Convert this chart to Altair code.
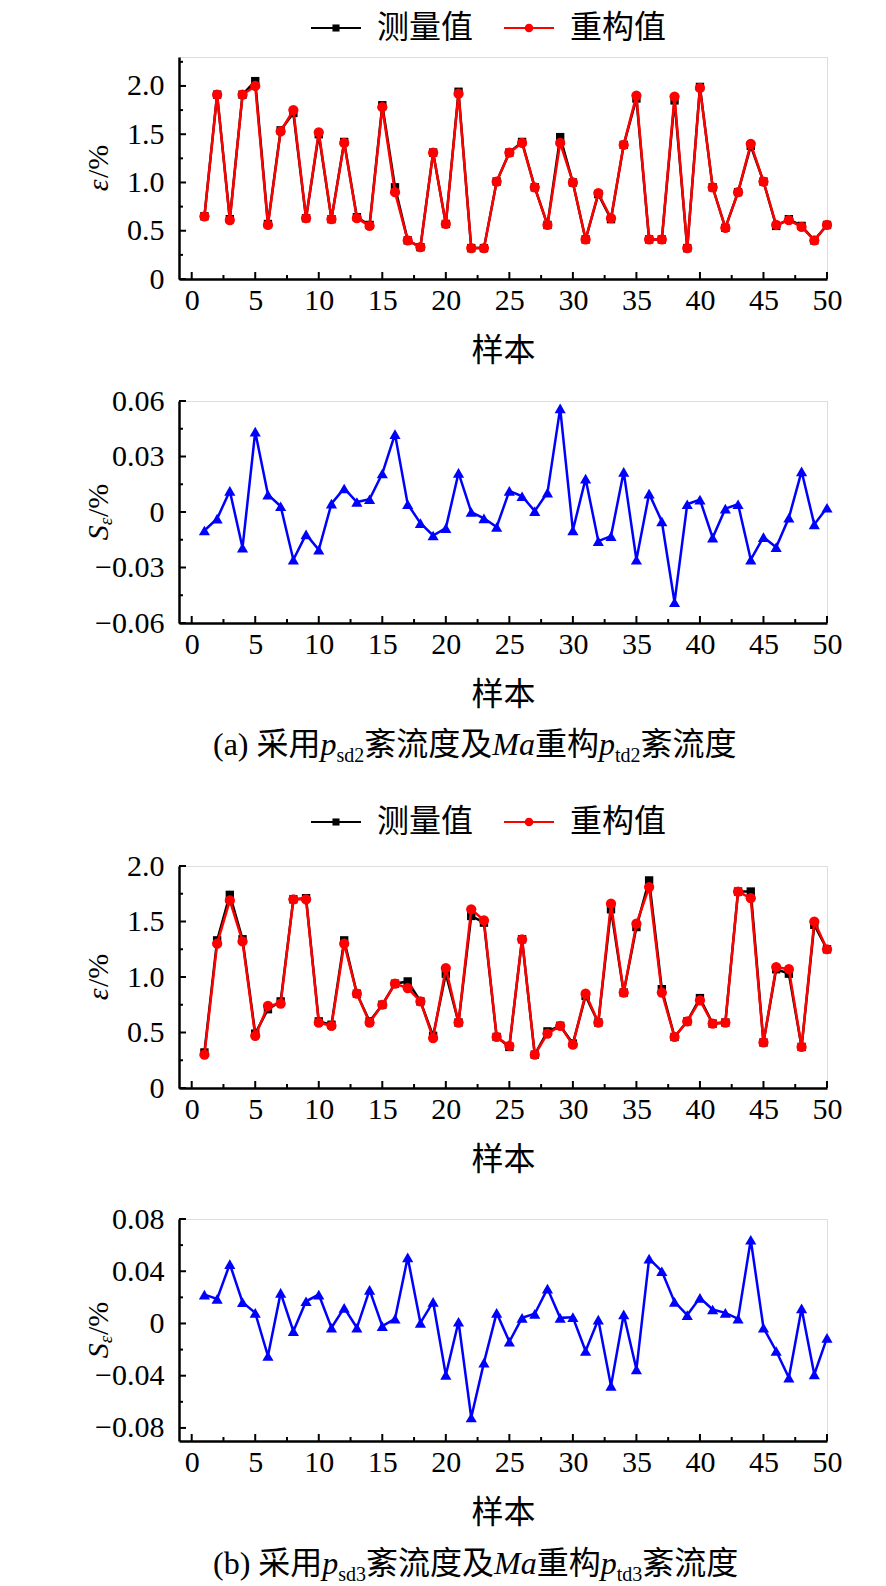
import altair as alt
import pandas as pd

# ---------------- data ----------------
samples = list(range(1, 51))

a_measured = [0.65, 1.91, 0.62, 1.91, 2.05, 0.57, 1.54, 1.72, 0.63, 1.50,
              0.62, 1.42, 0.64, 0.56, 1.80, 0.95, 0.40, 0.33, 1.31, 0.57,
              1.94, 0.32, 0.32, 1.01, 1.31, 1.42, 0.95, 0.56, 1.47, 1.00,
              0.41, 0.88, 0.62, 1.39, 1.87, 0.41, 0.41, 1.85, 0.32, 1.99,
              0.95, 0.53, 0.90, 1.38, 1.01, 0.55, 0.62, 0.55, 0.40, 0.56]
a_recon = [0.65, 1.91, 0.61, 1.91, 2.00, 0.56, 1.53, 1.75, 0.63, 1.52,
           0.62, 1.41, 0.63, 0.55, 1.78, 0.90, 0.40, 0.33, 1.31, 0.57,
           1.92, 0.32, 0.32, 1.01, 1.31, 1.41, 0.95, 0.56, 1.41, 1.00,
           0.41, 0.89, 0.63, 1.39, 1.90, 0.41, 0.41, 1.89, 0.32, 1.98,
           0.95, 0.53, 0.90, 1.40, 1.01, 0.56, 0.61, 0.54, 0.40, 0.56]
a_S = [-0.010, -0.0036, 0.0114, -0.0193, 0.0434, 0.0094, 0.0031, -0.0258, -0.0121, -0.0204,
       0.0045, 0.0127, 0.0054, 0.0069, 0.0208, 0.0421, 0.0042, -0.0060, -0.0127, -0.0087,
       0.0211, 0.0, -0.0034, -0.0081, 0.0114, 0.0085, 0.0005, 0.0105, 0.056, -0.0099,
       0.018, -0.0157, -0.013, 0.0217, -0.0258, 0.0099, -0.0051, -0.0488, 0.0042, 0.0067,
       -0.0139, 0.0018, 0.0042, -0.0257, -0.0136, -0.019, -0.0031, 0.022, -0.0067, 0.0023]

b_measured = [0.32, 1.33, 1.74, 1.34, 0.49, 0.71, 0.78, 1.70, 1.71, 0.60,
              0.57, 1.33, 0.85, 0.60, 0.75, 0.94, 0.96, 0.78, 0.47, 1.03,
              0.59, 1.55, 1.49, 0.46, 0.37, 1.34, 0.30, 0.51, 0.56, 0.40,
              0.83, 0.59, 1.61, 0.86, 1.45, 1.87, 0.89, 0.46, 0.60, 0.81,
              0.58, 0.59, 1.77, 1.77, 0.41, 1.07, 1.03, 0.37, 1.47, 1.25]
b_recon = [0.30, 1.30, 1.69, 1.32, 0.47, 0.74, 0.76, 1.70, 1.70, 0.59,
           0.56, 1.30, 0.85, 0.59, 0.75, 0.94, 0.90, 0.78, 0.45, 1.08,
           0.59, 1.61, 1.51, 0.46, 0.38, 1.34, 0.30, 0.49, 0.56, 0.39,
           0.85, 0.59, 1.66, 0.86, 1.48, 1.81, 0.86, 0.46, 0.60, 0.79,
           0.58, 0.59, 1.77, 1.71, 0.41, 1.09, 1.07, 0.37, 1.50, 1.25]
b_S = [0.0221, 0.0188, 0.0455, 0.0163, 0.0081, -0.0249, 0.0234, -0.0059, 0.017, 0.0221,
       -0.0033, 0.012, -0.0033, 0.0257, -0.002, 0.0036, 0.0506, 0.0005, 0.0165, -0.0394,
       0.0013, -0.072, -0.030, 0.0081, -0.014, 0.0043, 0.0074, 0.0267, 0.0043, 0.0048,
       -0.0211, 0.003, -0.0478, 0.0069, -0.0351, 0.0496, 0.040, 0.0165, 0.0064, 0.0196,
       0.0107, 0.0081, 0.0036, 0.0641, -0.0033, -0.0211, -0.0415, 0.0115, -0.039, -0.011]

series_names = ["测量值", "重构值"]
x_label = "样本"

x_major = [0, 5, 10, 15, 20, 25, 30, 35, 40, 45, 50]
x_minor = [2.5, 7.5, 12.5, 17.5, 22.5, 27.5, 32.5, 37.5, 42.5, 47.5]

eps_a_major = [0, 0.5, 1.0, 1.5, 2.0]
eps_a_minor = [0.25, 0.75, 1.25, 1.75, 2.25]
eps_b_major = [0, 0.5, 1.0, 1.5, 2.0]
eps_b_minor = [0.25, 0.75, 1.25, 1.75]
s_a_major = [-0.06, -0.03, 0, 0.03, 0.06]
s_a_minor = [-0.045, -0.015, 0.015, 0.045]
s_b_major = [-0.08, -0.04, 0, 0.04, 0.08]
s_b_minor = [-0.06, -0.02, 0.02, 0.06]

# ---------------- style ----------------
SERIF = "Liberation Serif"
CJK = "Noto Sans CJK SC"
W, H = 648, 222
LBL = 30
BLACK, RED, BLUE = "#000000", "#ff0000", "#0000ff"

# approximate Times metrics (em) for positioning rich-text pieces
_tm = {"(": 0.333, ")": 0.333, "a": 0.444, "b": 0.5, " ": 0.25, "s": 0.389,
       "d": 0.5, "t": 0.278, "2": 0.5, "3": 0.5, "/": 0.278, "%": 0.833}
_ti = {"p": 0.5, "M": 0.833, "a": 0.5, "S": 0.5, "ε": 0.44}


def text_width(s, size, font, style):
    if font == CJK:
        return len(s) * size
    table = _ti if style == "italic" else _tm
    return sum(table.get(c, 0.5) for c in s) * size


one_row = alt.Data(values=[{"k": 1}])


def piece(txt, x, y, font, size, style="normal", angle=0, baseline="alphabetic", color=BLACK):
    kw = dict(text=txt, font=font, fontSize=size, fontStyle=style, align="left",
              baseline=baseline, color=color)
    if angle:
        kw["angle"] = angle
    return alt.Chart(one_row).mark_text(**kw).encode(x=alt.value(x), y=alt.value(y))


def ytitle_layers(kind):
    yc = H / 2
    xc = -80
    if kind == "eps":
        parts = [("ε", SERIF, 30, "italic", 0), ("/%", SERIF, 30, "normal", 0)]
    else:
        parts = [("S", SERIF, 30, "italic", 0), ("ε", SERIF, 19, "italic", 7),
                 ("/%", SERIF, 30, "normal", 0)]
    total = sum(text_width(t, s, f, st) for t, f, s, st, _ in parts)
    y = yc + total / 2
    out = []
    for t, f, s, st, dx in parts:
        out.append(piece(t, xc + dx, y, f, s, st, angle=270, baseline="middle"))
        y -= text_width(t, s, f, st)
    return out


def caption_layers(letter, sub1, sub2, y_base):
    parts = [(f"({letter}) ", SERIF, 32, "normal", 0), ("采用", CJK, 32, "normal", 0),
             ("p", SERIF, 32, "italic", 0), (sub1, SERIF, 20, "normal", 7),
             ("紊流度及", CJK, 32, "normal", 0), ("Ma", SERIF, 32, "italic", 0),
             ("重构", CJK, 32, "normal", 0), ("p", SERIF, 32, "italic", 0),
             (sub2, SERIF, 20, "normal", 7), ("紊流度", CJK, 32, "normal", 0)]
    x = 34
    out = []
    for t, f, s, st, dy in parts:
        out.append(piece(t, x, y_base + dy, f, s, st))
        x += text_width(t, s, f, st)
    return out


def legend_layers(yc):
    out = []
    entries = [(132, series_names[0], BLACK, "square"), (325, series_names[1], RED, "circle")]
    for x0, name, col, shp in entries:
        out.append(alt.Chart(one_row).mark_rule(color=col, strokeWidth=2).encode(
            x=alt.value(x0), x2=alt.value(x0 + 50), y=alt.value(yc)))
        if shp == "square":
            mk = alt.Chart(one_row).mark_square(size=50, opacity=1, color=col)
        else:
            mk = alt.Chart(one_row).mark_circle(size=75, opacity=1, color=col)
        out.append(mk.encode(x=alt.value(x0 + 25), y=alt.value(yc)))
        out.append(piece(name, x0 + 66, yc, CJK, 32, baseline="middle"))
    return out


def xscale():
    return alt.Scale(domain=[-1, 50], nice=False, zero=False)


def yscale(dom):
    return alt.Scale(domain=dom, nice=False, zero=False)


def x_axis():
    return alt.Axis(values=x_major, format="d", title=x_label, titleFont=CJK, titleFontSize=32,
                    titleFontWeight="normal", titleColor=BLACK, titlePadding=20,
                    labelFont=SERIF, labelFontSize=LBL, labelColor=BLACK, labelPadding=6,
                    labelFlush=False, labelOverlap=False, ticks=False, grid=False,
                    domainColor=BLACK, domainWidth=2.5)


def y_axis(vals, fmt):
    return alt.Axis(values=vals, labelExpr=f"datum.value == 0 ? '0' : format(datum.value, '{fmt}')",
                    title=None, labelFont=SERIF, labelFontSize=LBL, labelColor=BLACK,
                    labelPadding=15, labelOverlap=False, labelFlush=False, ticks=False, grid=False,
                    domainColor=BLACK, domainWidth=2.5)


def tick_layers(ydom, ymaj, ymin, xax, yax):
    lay = []
    for vals, ln in ((x_major, 7), (x_minor, 4)):
        lay.append(alt.Chart(pd.DataFrame({"v": vals})).mark_rule(color=BLACK, strokeWidth=2).encode(
            x=alt.X("v:Q", scale=xscale(), axis=xax, title=x_label), y=alt.value(H), y2=alt.value(H - ln)))
    for vals, ln in ((ymaj, 7), (ymin, 4)):
        lay.append(alt.Chart(pd.DataFrame({"v": vals})).mark_rule(color=BLACK, strokeWidth=2).encode(
            y=alt.Y("v:Q", scale=yscale(ydom), axis=yax), x=alt.value(0), x2=alt.value(ln)))
    return lay


def eps_panel(meas, rec, ydom, ymaj, ymin, legend_yc):
    df = pd.DataFrame({"sample": samples * 2, "value": meas + rec,
                       "series": [series_names[0]] * 50 + [series_names[1]] * 50})
    cscale = alt.Scale(domain=series_names, range=[BLACK, RED])
    xax, yax = x_axis(), y_axis(ymaj, ".1f")
    enc_x = alt.X("sample:Q", scale=xscale(), axis=xax, title=x_label)
    enc_y = alt.Y("value:Q", scale=yscale(ydom), axis=yax)
    layers = []
    for i, s in enumerate(series_names):
        base = alt.Chart(df).transform_filter(alt.datum.series == s)
        layers.append(base.mark_line(strokeWidth=2.5).encode(
            x=enc_x, y=enc_y, color=alt.Color("series:N", scale=cscale, legend=None)))
        if i == 0:
            m = base.mark_square(size=70, opacity=1)
        else:
            m = base.mark_circle(size=105, opacity=1)
        layers.append(m.encode(x=enc_x, y=enc_y,
                               color=alt.Color("series:N", scale=cscale, legend=None)))
    layers += tick_layers(ydom, ymaj, ymin, xax, yax)
    layers += ytitle_layers("eps")
    layers += legend_layers(legend_yc)
    return alt.layer(*layers).properties(width=W, height=H)


def s_panel(vals, ydom, ymaj, ymin, cap):
    df = pd.DataFrame({"sample": samples, "S": vals})
    xax, yax = x_axis(), y_axis(ymaj, ".2f")
    enc_x = alt.X("sample:Q", scale=xscale(), axis=xax, title=x_label)
    enc_y = alt.Y("S:Q", scale=yscale(ydom), axis=yax)
    base = alt.Chart(df)
    layers = [base.mark_line(color=BLUE, strokeWidth=2.5).encode(x=enc_x, y=enc_y),
              base.mark_point(shape="triangle-up", filled=True, size=125, opacity=1, color=BLUE)
              .encode(x=enc_x, y=enc_y)]
    layers += tick_layers(ydom, ymaj, ymin, xax, yax)
    layers += ytitle_layers("S")
    layers += caption_layers(*cap)
    return alt.layer(*layers).properties(width=W, height=H)


a1 = eps_panel(a_measured, a_recon, [0, 2.3], eps_a_major, eps_a_minor, -29)
a2 = s_panel(a_S, [-0.06, 0.06], s_a_major, s_a_minor, ("a", "sd2", "td2", 354))
b1 = eps_panel(b_measured, b_recon, [0, 2.0], eps_b_major, eps_b_minor, -44)
b2 = s_panel(b_S, [-0.09, 0.08], s_b_major, s_b_minor, ("b", "sd3", "td3", 355))

chart = alt.vconcat(
    alt.vconcat(a1, a2, spacing=18),
    alt.vconcat(b1, b2, spacing=27),
    spacing=38,
).properties(
    padding={"left": 75, "top": 3, "right": 5, "bottom": 5}
).configure_view(
    stroke=BLACK, strokeWidth=2
).configure(background="white")

chart.save("out.html", embed_options={"renderer": "svg", "actions": False})
